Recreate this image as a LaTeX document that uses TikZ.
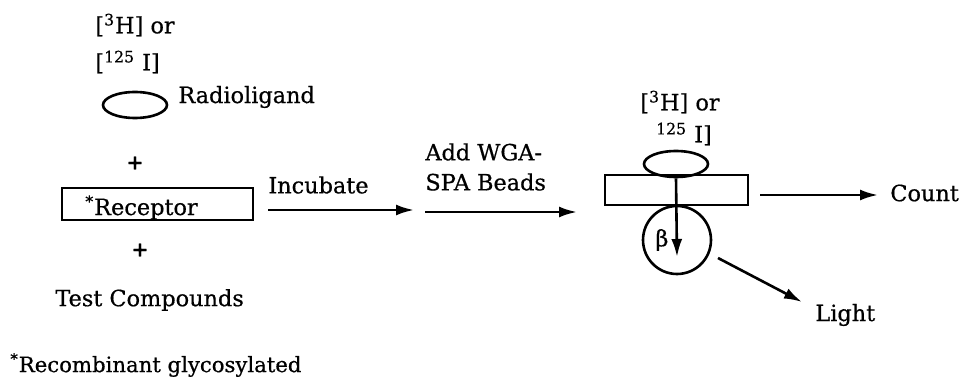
\documentclass[tikz,border=0pt]{standalone}
\usepackage{fontspec}
\setmainfont{DejaVu Serif}[FakeBold=0.6]
\usetikzlibrary{arrows.meta,shapes.geometric}
\begin{document}
\begin{tikzpicture}[x=0.5pt,y=-0.5pt,
  lbl/.style={inner sep=0pt,font=\fontsize{11.2}{13.5}\selectfont},
  lig/.style={draw,ellipse,line width=1.3pt,minimum width=32pt,minimum height=13pt,inner sep=0pt},
  boxr/.style={draw,rectangle,line width=1.3pt,inner sep=0pt},
  arr/.style={line width=1.3pt,-{Latex[length=9pt,width=5.5pt]}},
  plus/.style={inner sep=0pt,font=\fontsize{10}{12}\selectfont\bfseries}]
\useasboundingbox (0,0) rectangle (975,385);
% left column
\node[lbl,anchor=west] (h3a) at (95,25) {[\textsuperscript{3}H] or};
\node[lbl,anchor=west] (i125a) at (95,62) {[\textsuperscript{125} I]};
\node[lig] (liga) at (135,105) {};
\node[lbl,anchor=west] (radio) at (178,97) {Radioligand};
\node[plus] (plus1) at (135,163) {+};
\node[boxr,minimum width=95.5pt,minimum height=16pt] (rec) at (157.5,204) {};
\node[lbl,anchor=base west] (rectxt) at (85,215) {\textsuperscript{*}Receptor};
\node[plus] (plus2) at (140,250) {+};
\node[lbl,anchor=west] (test) at (55,300) {Test Compounds};
\node[lbl,anchor=west,font=\fontsize{10.6}{13}\selectfont] (foot) at (10,365) {\textsuperscript{*}Recombinant glycosylated};
% incubate
\coordinate (inc1) at (268,210);
\coordinate (inc2) at (414,210);
\draw[arr] (inc1) -- (inc2);
\node[lbl,anchor=west] (inc) at (268,185) {Incubate};
% add beads
\node[lbl,anchor=west] (add) at (425,152) {Add WGA-};
\node[lbl,anchor=west] (spa) at (425,182) {SPA Beads};
\coordinate (sp1) at (425,212);
\coordinate (sp2) at (577,212);
\draw[arr] (sp1) -- (sp2);
% right complex
\node[lbl] (h3b) at (680,102) {[\textsuperscript{3}H] or};
\node[lbl] (i125b) at (684,134) {\textsuperscript{125} I]};
\node[boxr,minimum width=71.5pt,minimum height=15pt] (bead) at (676.5,190) {};
\node[lig,minimum width=32pt,minimum height=13pt] (ligb) at (676,164) {};
\node[draw,circle,line width=1.3pt,minimum size=34pt,inner sep=0pt] (circ) at (677,240) {};
\node[lbl] (beta) at (662,240) {β};
\coordinate (bt) at (677,257);
\draw[arr] (ligb.south) -- (bt);
% count
\coordinate (c1) at (760,195);
\coordinate (c2) at (878,195);
\draw[arr] (c1) -- (c2);
\node[lbl,anchor=west] (count) at (890,193) {Count};
% light
\coordinate (l1) at (718,258);
\coordinate (l2) at (802,302);
\draw[arr] (l1) -- (l2);
\node[lbl,anchor=west] (light) at (815,315) {Light};
\end{tikzpicture}
\end{document}
